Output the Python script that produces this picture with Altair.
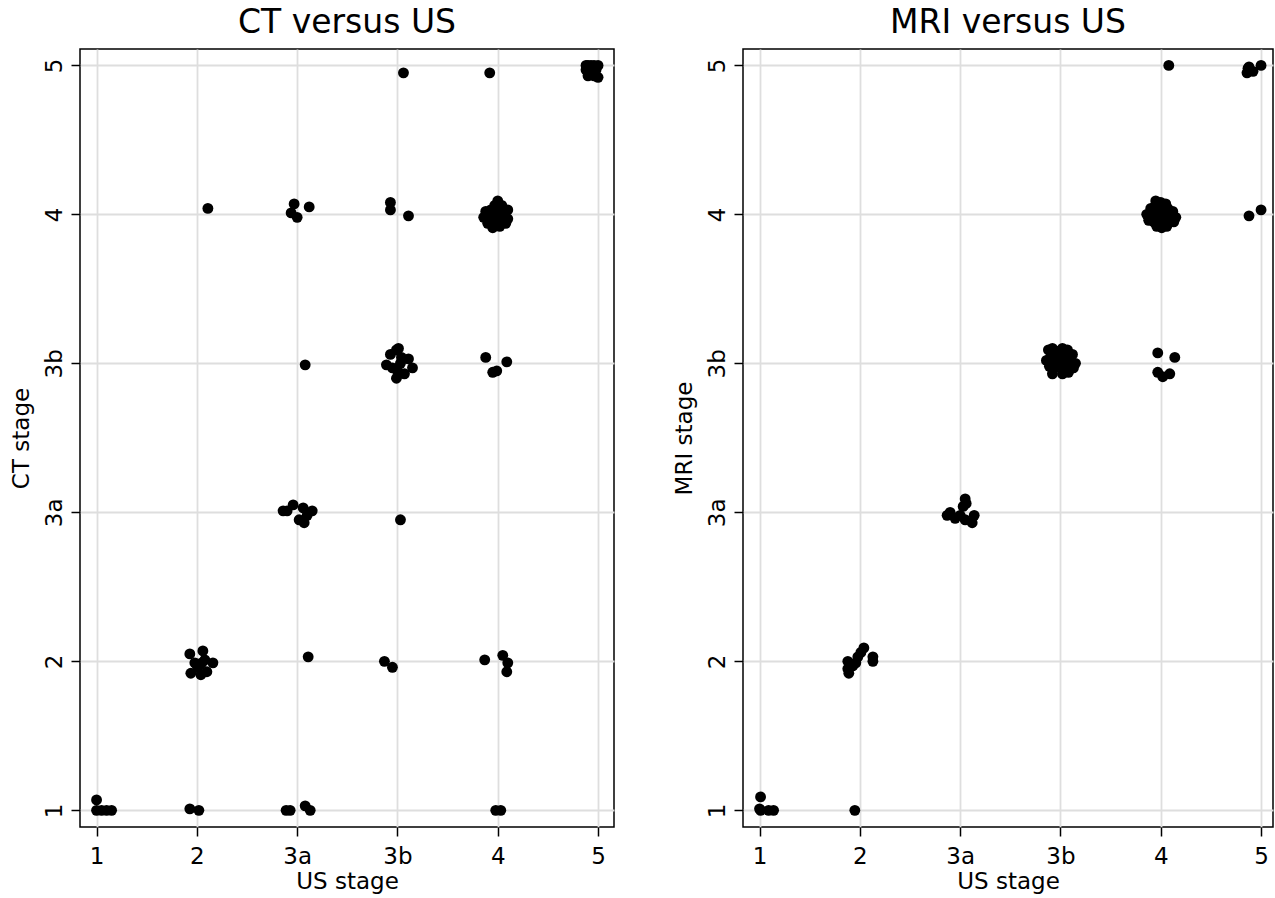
import altair as alt
import pandas as pd

# Stage labels (positions 1..6 on both axes)
stage_labels = ["1", "2", "3a", "3b", "4", "5"]

# CT versus US (jittered positions)
ct_us = [1.0, 1.0, 1.05, 1.1, 1.15, 1.93, 2.02, 2.89, 2.93, 3.08, 3.13, 4.98, 5.03,
         1.93, 2.06, 2.16, 1.94, 2.04, 2.10, 1.98, 2.05, 2.01, 2.08, 3.11, 3.87, 3.95,
         4.87, 5.05, 5.10, 5.09,
         2.86, 2.96, 3.06, 3.15, 3.02, 3.07, 3.10, 2.90, 4.03,
         3.08, 3.93, 4.01, 3.99, 4.11, 3.89, 3.95, 4.03, 4.15, 4.07, 3.99, 4.04, 4.00,
         4.88, 5.09, 4.95, 4.99,
         2.11, 2.97, 2.94, 3.00, 3.12, 3.93, 3.93, 4.11,
         5.00, 4.97, 5.04, 5.10, 4.88, 4.93, 4.98, 5.03, 5.07, 4.86, 4.90, 4.95, 5.00,
         5.05, 5.10, 4.90, 4.97, 5.02, 5.08, 4.95, 5.00,
         4.06, 4.92,
         5.88, 5.90, 5.93, 5.96, 6.00, 5.88, 5.92, 5.95, 5.98, 6.00, 5.90, 5.96]
ct_ct = [1.07, 1.0, 1.0, 1.0, 1.0, 1.01, 1.0, 1.0, 1.0, 1.03, 1.0, 1.0, 1.0,
         2.05, 2.07, 1.99, 1.92, 1.91, 1.93, 1.99, 1.99, 1.96, 2.01, 2.03, 2.00, 1.96,
         2.01, 2.04, 1.99, 1.93,
         3.01, 3.05, 3.03, 3.01, 2.95, 2.93, 2.98, 3.01, 2.95,
         3.99, 4.06, 4.10, 4.09, 4.03, 3.99, 3.97, 4.00, 3.97, 3.93, 3.90, 4.04, 3.95,
         4.04, 4.01, 3.94, 3.95,
         5.04, 5.07, 5.01, 4.98, 5.05, 5.08, 5.03, 4.99,
         5.09, 5.06, 5.06, 5.03, 5.02, 5.03, 5.01, 5.02, 5.00, 4.98, 4.99, 4.97, 4.98,
         4.96, 4.97, 4.94, 4.93, 4.92, 4.94, 4.91, 4.95,
         5.95, 5.95,
         6.00, 6.00, 6.00, 6.00, 6.00, 5.97, 5.96, 5.95, 5.97, 5.92, 5.93, 5.93]

# MRI versus US
mri_us = [1.01, 1.00, 1.01, 1.09, 1.14, 1.95,
          1.88, 1.89, 1.88, 1.96, 1.98, 2.04, 2.01, 2.13, 2.13, 1.93,
          2.87, 3.05, 3.03, 2.95, 3.05, 3.12, 3.14, 2.90, 3.00, 3.06,
          3.88, 3.92, 3.97, 4.02, 4.07, 4.12, 3.86, 3.90, 3.95, 4.00, 4.05, 4.10, 4.15,
          3.89, 3.94, 3.99, 4.04, 4.09, 4.13, 3.92, 4.02, 4.08,
          4.97, 5.14, 4.97, 5.02, 5.09,
          4.95, 5.00, 5.05, 4.90, 4.94, 4.98, 5.02, 5.07, 5.12, 4.86, 4.90, 4.95, 5.00,
          5.05, 5.10, 5.15, 4.88, 4.93, 4.98, 5.03, 5.08, 5.13, 4.96, 5.01, 5.06,
          5.88, 6.00,
          5.08, 5.87, 5.86, 5.92, 6.00, 5.88]
mri_mri = [1.09, 1.01, 1.00, 1.00, 1.00, 1.00,
           2.00, 1.92, 1.95, 1.99, 2.03, 2.09, 2.06, 2.03, 2.00, 1.97,
           2.98, 3.09, 3.04, 2.96, 2.95, 2.93, 2.98, 3.00, 2.98, 3.06,
           4.09, 4.10, 4.08, 4.10, 4.09, 4.06, 4.02, 4.04, 4.03, 4.05, 4.04, 4.02, 4.00,
           3.98, 3.97, 3.99, 3.98, 3.96, 3.97, 3.93, 3.93, 3.94,
           4.07, 4.04, 3.94, 3.91, 3.93,
           5.09, 5.08, 5.07, 5.04, 5.05, 5.04, 5.05, 5.04, 5.02, 5.00, 5.01, 5.00, 5.01,
           4.99, 5.00, 4.98, 4.96, 4.95, 4.96, 4.95, 4.96, 4.95, 4.92, 4.91, 4.92,
           4.99, 5.03,
           6.00, 5.98, 5.95, 5.96, 6.00, 5.99]

FONT = "DejaVu Sans"
label_expr = "['', '1', '2', '3a', '3b', '4', '5'][datum.value]"


def panel(xs, ys, title, ytitle, width):
    df = pd.DataFrame({"x": xs, "y": ys})
    return alt.Chart(df).mark_circle(size=118, color="black", opacity=1).encode(
        x=alt.X("x:Q",
                scale=alt.Scale(domain=[0.835, 0.835 + width / 100.3], nice=False, zero=False),
                axis=alt.Axis(values=[1, 2, 3, 4, 5, 6], labelExpr=label_expr,
                              title="US stage", labelPadding=9, titlePadding=2)),
        y=alt.Y("y:Q",
                scale=alt.Scale(domain=[0.888, 6.11], nice=False, zero=False),
                axis=alt.Axis(values=[1, 2, 3, 4, 5, 6], labelExpr=label_expr,
                              title=ytitle, labelAngle=270, labelAlign="center",
                              labelBaseline="bottom", labelPadding=5, titlePadding=10)),
    ).properties(
        width=width, height=778,
        title=alt.TitleParams(title, fontSize=33, font=FONT, fontWeight="normal",
                              color="black", offset=9),
    )


left = panel(ct_us, ct_ct, "CT versus US", "CT stage", 534)
right = panel(mri_us, mri_mri, "MRI versus US", "MRI stage", 530)

chart = alt.hconcat(left, right, spacing=57).properties(
    padding={"left": 9, "top": 6, "right": 0, "bottom": 0}
).configure_view(
    stroke="black", strokeWidth=1.5
).configure_axis(
    grid=True, gridColor="#dedede", gridWidth=1.8, domain=False,
    tickColor="black", tickSize=9, tickWidth=1.5,
    labelFont=FONT, labelFontSize=23, labelColor="black",
    titleFont=FONT, titleFontSize=23, titleFontWeight="normal", titleColor="black",
)

chart.save("out.html", embed_options={"renderer": "svg", "actions": False})
